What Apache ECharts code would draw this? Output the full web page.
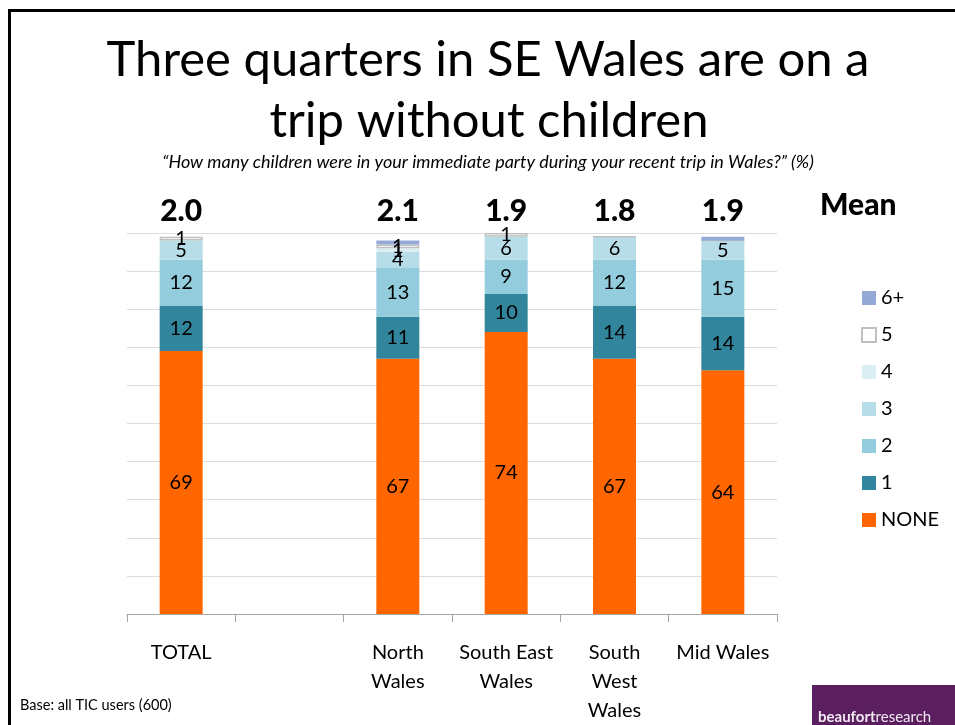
<!DOCTYPE html>
<html>
<head>
<meta charset="utf-8">
<script src="https://cdn.jsdelivr.net/npm/echarts@6/dist/echarts.min.js"></script>
<style>
  html, body { margin: 0; padding: 0; background: #fff; }
  #chart { width: 955px; height: 725px; }
</style>
</head>
<body>
<div id="chart"></div>
<script>
// Regions (the empty slot keeps a gap after TOTAL)
const categories = ['TOTAL', '', 'North Wales', 'South East Wales', 'South West Wales', 'Mid Wales'];
const tickLabels = ['TOTAL', '', 'North\nWales', 'South East\nWales', 'South\nWest\nWales', 'Mid Wales'];

// Number of children in party (%), per region
const none = [69, null, 67, 74, 67, 64];
const one = [12, null, 11, 10, 14, 14];
const two = [12, null, 13, 9, 12, 15];
const three = [5, null, 4, 6, 6, 5];
const four = [0, null, 1, 0, 0, 0];
const five = [1, null, 1, 1, 0, 0];
const sixPlus = [0, null, 1, 0, 0, 1];

// Which small segments carry a printed value
const showFour = [false, false, true, false, false, false];
const showSix = [false, false, false, false, false, false];

// Mean number of children
const means = [2.0, null, 2.1, 1.9, 1.8, 1.9];

const FONT = 'Lato, "Open Sans", sans-serif';

function segLabels(values, shown) {
  return values.map((v, i) => ({
    value: v,
    label: { show: v !== null && v > 0 && (shown ? shown[i] : true) }
  }));
}

const baseLabel = {
  show: true,
  position: 'inside',
  color: '#000',
  fontFamily: FONT,
  fontSize: 20
};

function barSeries(name, values, color, shown, extraStyle) {
  return {
    name: name,
    type: 'bar',
    stack: 'kids',
    barWidth: 43,
    data: segLabels(values, shown),
    itemStyle: Object.assign({ color: color, borderWidth: 0 }, extraStyle || {}),
    label: baseLabel,
    emphasis: { disabled: true },
    animation: false
  };
}

const chart = echarts.init(document.getElementById('chart'), null, { renderer: 'canvas' });

chart.setOption({
  backgroundColor: '#fff',
  animation: false,
  grid: { left: 127, right: 178, top: 233, bottom: 103 },
  xAxis: {
    type: 'category',
    data: categories,
    axisLine: { show: true, lineStyle: { color: '#A6A6A6', width: 1 } },
    axisTick: { show: true, length: 8, lineStyle: { color: '#A6A6A6' } },
    axisLabel: {
      formatter: (v, i) => tickLabels[i],
      color: '#000',
      fontFamily: FONT,
      fontSize: 20,
      lineHeight: 29,
      margin: 24,
      interval: 0
    }
  },
  yAxis: {
    type: 'value',
    min: 0,
    max: 100,
    interval: 10,
    axisLine: { show: false },
    axisTick: { show: false },
    axisLabel: { show: false },
    splitLine: { show: true, lineStyle: { color: '#DCDCDC', width: 1 } }
  },
  legend: {
    orient: 'vertical',
    left: 856,
    top: 283,
    itemWidth: 14,
    itemHeight: 14,
    itemGap: 17,
    icon: 'rect',
    textStyle: { color: '#000', fontFamily: FONT, fontSize: 20, lineHeight: 20 },
    data: ['6+', '5', '4', '3', '2', '1', 'NONE'],
    selectedMode: false
  },
  series: [
    barSeries('NONE', none, '#FF6600'),
    barSeries('1', one, '#31859C'),
    barSeries('2', two, '#93CDDD'),
    barSeries('3', three, '#B7DEE8'),
    barSeries('4', four, '#DAEEF3', showFour),
    barSeries('5', five, '#FFFFFF', null, { borderColor: '#BFBFBF', borderWidth: 1.5 }),
    barSeries('6+', sixPlus, '#95A9D6', showSix),
    {
      name: 'mean',
      type: 'scatter',
      symbolSize: 0,
      silent: true,
      itemStyle: { opacity: 1 },
      data: means.map(m => (m === null ? null : 100)),
      label: {
        show: true,
        position: 'top',
        distance: 7,
        formatter: p => means[p.dataIndex].toFixed(1),
        color: '#000',
        opacity: 1,
        fontFamily: FONT,
        fontWeight: 900,
        fontSize: 30
      },
      animation: false
    }
  ],
  graphic: [
    // slide frame
    { type: 'line', shape: { x1: 9.5, y1: 9, x2: 9.5, y2: 725 }, style: { stroke: '#000', lineWidth: 3 } },
    { type: 'line', shape: { x1: 8, y1: 10.5, x2: 955, y2: 10.5 }, style: { stroke: '#000', lineWidth: 3 } },
    {
      type: 'text', x: 488, y: 60,
      style: {
        text: 'Three quarters in SE Wales are on a',
        fill: '#000', font: '49px ' + FONT, align: 'center', verticalAlign: 'middle'
      }
    },
    {
      type: 'text', x: 489, y: 121,
      style: {
        text: 'trip without children',
        fill: '#000', font: '49px ' + FONT, align: 'center', verticalAlign: 'middle'
      }
    },
    {
      type: 'text', x: 488, y: 162,
      style: {
        text: '\u201CHow many children were in your immediate party during your recent trip in Wales?\u201D (%)',
        fill: '#000', font: 'italic 18px ' + FONT, align: 'center', verticalAlign: 'middle'
      }
    },
    {
      type: 'text', x: 820, y: 205,
      style: { text: 'Mean', fill: '#000', font: '900 30px ' + FONT, verticalAlign: 'middle' }
    },
    {
      type: 'text', x: 20, y: 705,
      style: { text: 'Base: all TIC users (600)', fill: '#000', font: '14.5px ' + FONT, verticalAlign: 'middle' }
    },
    {
      type: 'rect', shape: { x: 812, y: 685, width: 143, height: 40 },
      style: { fill: '#5B1F5F' }
    },
    {
      type: 'text', x: 818, y: 717,
      style: {
        text: '{b|beaufort}{r|research}',
        verticalAlign: 'middle',
        rich: {
          b: { fill: '#F2E8F2', font: 'bold 15px ' + FONT },
          r: { fill: '#F2E8F2', font: '15px ' + FONT }
        }
      }
    }
  ]
});
</script>
</body>
</html>
